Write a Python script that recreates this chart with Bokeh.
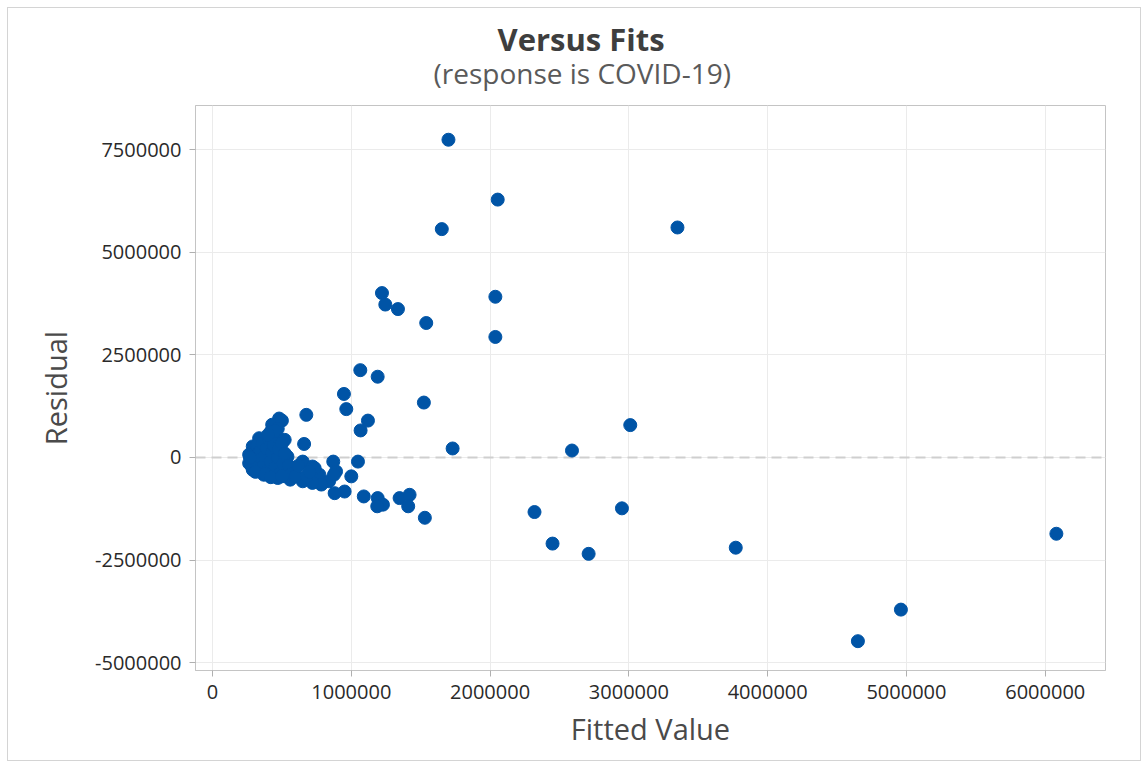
from bokeh.plotting import figure
from bokeh.models import Title, Span, FixedTicker, NumeralTickFormatter, Range1d, ColumnDataSource
from bokeh.embed import file_html
from bokeh.resources import INLINE

# Fitted values and residuals
fitted = [
    1700000, 2055000, 1652000, 3350000, 1221000, 2038000, 1245000, 1336000, 1540000, 2038000,
    1065000, 1190000, 947000, 964000, 1120000, 1067000, 1523000, 1730000, 2590000, 3010000,
    2320000, 2950000, 2450000, 2710000, 3770000, 6080000, 4960000, 4650000, 1530000,
    1090000, 1190000, 1228000, 1187000, 1348000, 1420000, 1410000,
    480000, 430000, 500000, 420000, 470000, 336000, 290000, 264000, 264000, 290000,
    370000, 470000, 560000, 650000, 520000, 540000, 660000, 650000, 590000, 720000,
    870000, 890000, 770000, 840000, 676000, 736000, 784000, 952000, 880000, 1048000,
    1000000, 875000, 720000,
    300000, 300000, 320000, 330000, 340000, 350000, 360000, 370000, 380000, 390000,
    400000, 410000, 420000, 430000, 440000, 450000, 460000, 470000, 480000, 490000,
    500000, 510000, 520000, 530000, 550000, 570000, 600000, 620000, 680000, 700000,
    280000, 270000, 310000, 380000, 450000, 400000, 420000, 500000,
]
residual = [
    7750000, 6290000, 5570000, 5610000, 4010000, 3920000, 3730000, 3620000, 3280000, 2940000,
    2130000, 1970000, 1550000, 1180000, 900000, 660000, 1340000, 220000, 170000, 790000,
    -1330000, -1240000, -2100000, -2350000, -2200000, -1860000, -3710000, -4480000, -1470000,
    -950000, -990000, -1150000, -1190000, -990000, -910000, -1190000,
    950000, 800000, 900000, 630000, 700000, 470000, 270000, 70000, -140000, -300000,
    -420000, -500000, -540000, -580000, 430000, 20000, 330000, -100000, -260000, -220000,
    -100000, -340000, -420000, -580000, 1040000, -260000, -660000, -830000, -870000, -100000,
    -460000, -420000, -620000,
    100000, -100000, 300000, -250000, 150000, -50000, 350000, -200000, 50000, 220000,
    -320000, 420000, -100000, 120000, 300000, -250000, 520000, 0, 200000, -380000,
    350000, -150000, 100000, -400000, -200000, -400000, -450000, -200000, -450000, -350000,
    -200000, 0, -350000, -400000, 650000, 550000, -480000, -460000,
]

x_ticks = [0, 1000000, 2000000, 3000000, 4000000, 5000000, 6000000]
y_ticks = [-5000000, -2500000, 0, 2500000, 5000000, 7500000]

title_text = "Versus Fits"
subtitle_text = "(response is COVID-19)"

src = ColumnDataSource(data=dict(x=fitted, y=residual))

p = figure(
    frame_width=910, frame_height=565,
    x_range=Range1d(-122500, 6434000), y_range=Range1d(-5195000, 8585000),
    output_backend="svg", toolbar_location=None,
    min_border_left=187, min_border_right=35, min_border_top=97, min_border_bottom=90,
)
p.styles = {"border": "1px solid #d4d4d4", "margin-left": "7px", "margin-top": "7px"}
p.background_fill_color = "white"
p.border_fill_color = "white"
p.outline_line_color = "#c4c4c4"
p.outline_line_width = 1

FONT = "Open Sans"
sub = Title(text=subtitle_text, align="left", offset=238, standoff=27,
            text_font=FONT, text_font_size="28px", text_font_style="normal",
            text_color="#5a5a5a")
main = Title(text=title_text, align="left", offset=302, standoff=-42,
             text_font=FONT, text_font_size="31px", text_font_style="bold",
             text_color="#3e3e3e")
p.add_layout(sub, "above")
p.add_layout(main, "above")

for ax in (p.xaxis[0], p.yaxis[0]):
    ax.axis_line_color = "#c4c4c4"
    ax.major_tick_line_color = "#b0b0b0"
    ax.major_tick_out = 6
    ax.major_tick_in = 0
    ax.minor_tick_line_color = None
    ax.major_label_text_font = FONT
    ax.major_label_text_font_size = "20px"
    ax.major_label_text_color = "#2a2a2a"
    ax.axis_label_text_font = FONT
    ax.axis_label_text_font_size = "29px"
    ax.axis_label_text_font_style = "normal"
    ax.axis_label_text_color = "#4a4a4a"
    ax.formatter = NumeralTickFormatter(format="0")

p.xaxis[0].ticker = FixedTicker(ticks=x_ticks)
p.yaxis[0].ticker = FixedTicker(ticks=y_ticks)
p.xaxis[0].axis_label = "Fitted Value"
p.yaxis[0].axis_label = "Residual"
p.xaxis[0].major_label_standoff = 8
p.yaxis[0].major_label_standoff = 8
p.xaxis[0].axis_label_standoff = 7
p.yaxis[0].axis_label_standoff = 17

p.xgrid.grid_line_color = "#ebebeb"
p.ygrid.grid_line_color = "#ebebeb"
p.xgrid.ticker = FixedTicker(ticks=x_ticks)
p.ygrid.ticker = FixedTicker(ticks=y_ticks)

zero = Span(location=0, dimension="width", line_color="#cfcfcf",
            line_dash="10 6", line_width=2, level="underlay")
p.add_layout(zero)

p.scatter("x", "y", source=src, size=13, fill_color="#0054A6",
          line_color="#0054A6", line_width=1)

open("out.html", "w").write(file_html(p, INLINE))
